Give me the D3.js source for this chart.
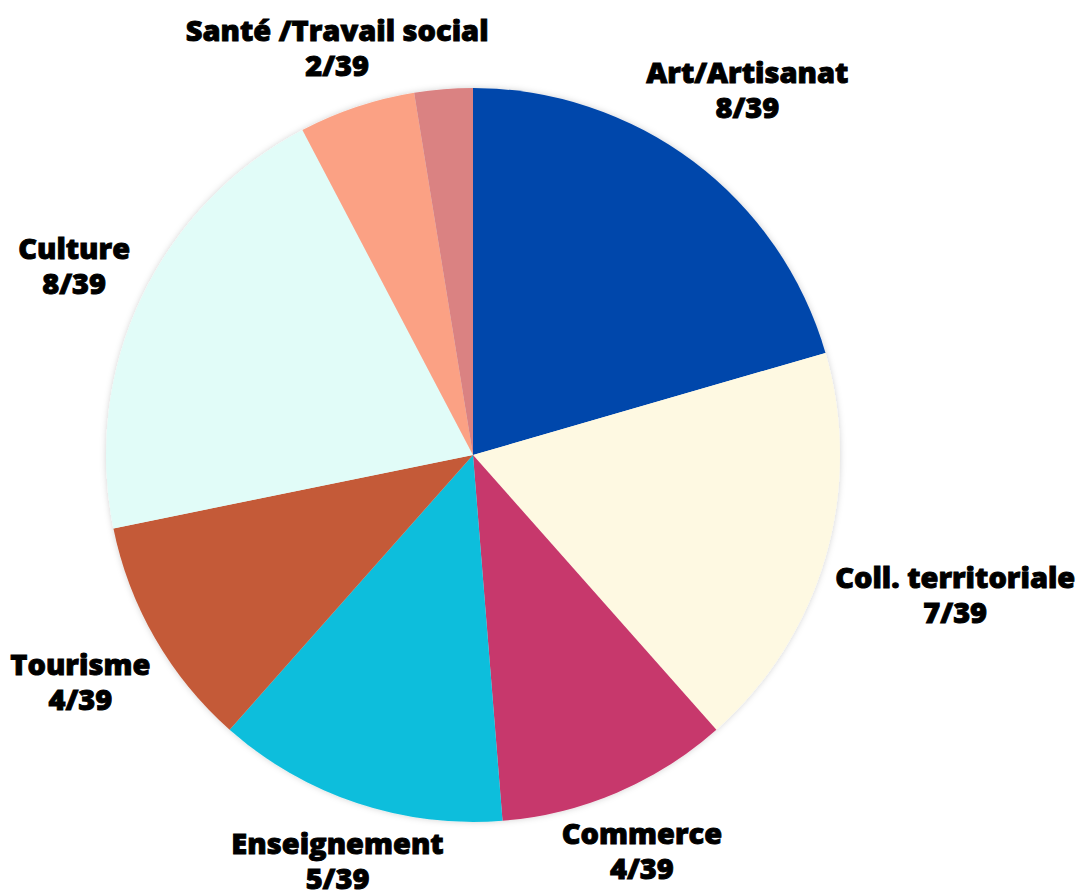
<!DOCTYPE html>
<html>
<head>
<meta charset="utf-8">
<script src="https://cdn.jsdelivr.net/npm/d3@7"></script>
<style>
  html, body { margin: 0; padding: 0; background: #ffffff; }
  svg { display: block; }
  .lbl { font-family: "Open Sans", "Noto Sans", sans-serif; font-weight: 800; font-size: 29px; fill: #000; stroke: #000; stroke-width: 0.9px; paint-order: stroke; }
</style>
</head>
<body>
<svg id="chart" width="1076" height="892"></svg>
<script>
const categories = ["Art/Artisanat", "Coll. territoriale", "Commerce", "Enseignement", "Tourisme", "Culture", "Santé /Travail social", ""];
const values = [8, 7, 4, 5, 4, 8, 2, 1];
const colors = ["#0047AB", "#FEF9E2", "#C7386C", "#0DBEDC", "#C45A38", "#E1FCF8", "#FBA184", "#DA8282"];
const total = 39;

const W = 1076, H = 892;
const cx = 473, cy = 455, R = 367, pad = 12;
const fs = 29, lineGap = 35;

const svg = d3.select("#chart");
const defs = svg.append("defs");
const f = defs.append("filter").attr("id", "sh").attr("x", "-10%").attr("y", "-10%").attr("width", "120%").attr("height", "120%");
f.append("feDropShadow").attr("dx", 0).attr("dy", 0).attr("stdDeviation", 3).attr("flood-color", "#000").attr("flood-opacity", 0.18);

const data = categories.map((c, i) => ({ name: c, value: values[i], color: colors[i] }));
const pie = d3.pie().value(d => d.value).sort(null);
const arcs = pie(data);
const arc = d3.arc().innerRadius(0).outerRadius(R);

const g = svg.append("g").attr("transform", `translate(${cx},${cy})`);
const pg = g.append("g").attr("filter", "url(#sh)");
pg.selectAll("path").data(arcs).join("path")
  .attr("d", arc)
  .attr("fill", d => d.data.color);

// labels
const lg = g.append("g");
arcs.filter(d => d.data.name !== "").forEach(d => {
  const t = lg.append("text").attr("class", "lbl").attr("text-anchor", "middle");
  t.append("tspan").attr("x", 0).attr("y", 0).text(d.data.name);
  t.append("tspan").attr("x", 0).attr("y", lineGap).text(`${d.data.value}/${total}`);
  const bb = t.node().getBBox();
  // ink box: cap top of first line to baseline of second line
  const top = -0.72 * fs, bottom = lineGap;
  const bw = bb.width, bh = bottom - top;
  const bcx = bb.x + bw / 2, bcy = (top + bottom) / 2;
  const a = (d.startAngle + d.endAngle) / 2;
  const ux = Math.sin(a), uy = -Math.cos(a);
  const minDist = (dist) => {
    const px = ux * dist, py = uy * dist;
    const x0 = px - bw / 2, x1 = px + bw / 2;
    const y0 = py - bh / 2, y1 = py + bh / 2;
    const nx = Math.max(x0, Math.min(0, x1));
    const ny = Math.max(y0, Math.min(0, y1));
    return Math.hypot(nx, ny);
  };
  let lo = 0, hi = 1000;
  for (let k = 0; k < 60; k++) {
    const mid = (lo + hi) / 2;
    if (minDist(mid) < R + pad) lo = mid; else hi = mid;
  }
  const px = ux * hi, py = uy * hi;
  t.attr("transform", `translate(${px - bcx},${py - bcy})`);
});
</script>
</body>
</html>
